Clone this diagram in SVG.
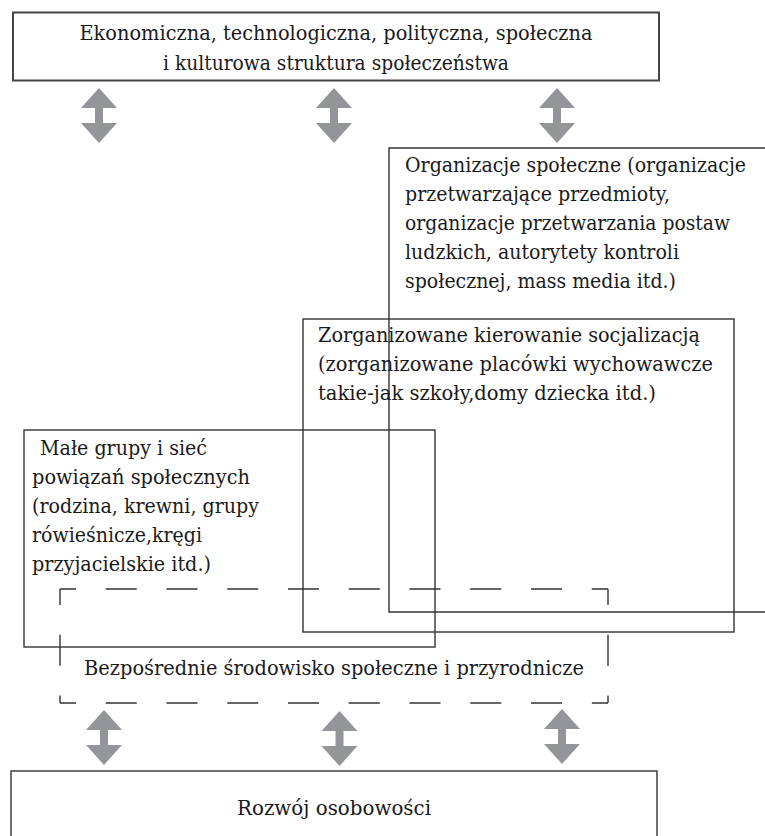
<svg xmlns="http://www.w3.org/2000/svg" width="765" height="836" viewBox="0 0 765 836">
<style>
.box{fill:none;stroke:#333;stroke-width:1.4}
.dash{fill:none;stroke:#333;stroke-width:1.4;stroke-dasharray:31 29.75;stroke-dashoffset:15}
text{font-family:'DejaVu Serif','Liberation Serif','Times New Roman',serif;font-size:21px;fill:#1a1a1a}
.c{text-anchor:middle}
.arr{fill:#939598}
</style>
<rect width="765" height="836" fill="#fff"/>
<g id="struktura">
<rect class="box" x="13" y="12.5" width="646" height="68" style="stroke-width:2;stroke:#444"/>
<text class="c" x="336" y="40" textLength="513" lengthAdjust="spacingAndGlyphs">Ekonomiczna, technologiczna, polityczna, społeczna</text>
<text class="c" x="336" y="70" textLength="346" lengthAdjust="spacingAndGlyphs">i kulturowa struktura społeczeństwa</text>
</g>
<g id="organizacje">
<path class="box" d="M765 148H389V612H765"/>
<text x="405" y="172" textLength="341" lengthAdjust="spacingAndGlyphs">Organizacje społeczne (organizacje</text>
<text x="405" y="201" textLength="265" lengthAdjust="spacingAndGlyphs">przetwarzające przedmioty,</text>
<text x="405" y="230" textLength="325" lengthAdjust="spacingAndGlyphs">organizacje przetwarzania postaw</text>
<text x="405" y="259" textLength="274" lengthAdjust="spacingAndGlyphs">ludzkich, autorytety kontroli</text>
<text x="405" y="288" textLength="271" lengthAdjust="spacingAndGlyphs">społecznej, mass media itd.)</text>
</g>
<g id="zorganizowane">
<rect class="box" x="303" y="319" width="431" height="313"/>
<text x="318" y="342" textLength="382" lengthAdjust="spacingAndGlyphs">Zorganizowane kierowanie socjalizacją</text>
<text x="318" y="371" textLength="395" lengthAdjust="spacingAndGlyphs">(zorganizowane placówki wychowawcze</text>
<text x="318" y="400" textLength="338" lengthAdjust="spacingAndGlyphs">takie-jak szkoły,domy dziecka itd.)</text>
</g>
<g id="male-grupy">
<rect class="box" x="24" y="430" width="411" height="217"/>
<text x="40" y="455" textLength="167" lengthAdjust="spacingAndGlyphs">Małe grupy i sieć</text>
<text x="32" y="484" textLength="218" lengthAdjust="spacingAndGlyphs">powiązań społecznych</text>
<text x="32" y="513" textLength="227" lengthAdjust="spacingAndGlyphs">(rodzina, krewni, grupy</text>
<text x="32" y="542" textLength="170" lengthAdjust="spacingAndGlyphs">rówieśnicze,kręgi</text>
<text x="32" y="571" textLength="179" lengthAdjust="spacingAndGlyphs">przyjacielskie itd.)</text>
</g>
<g id="srodowisko">
<path class="dash" d="M60 589H608"/>
<path class="dash" d="M60 703H608"/>
<path class="dash" d="M60 589V703"/>
<path class="dash" d="M608 589V703"/>
<text class="c" x="334" y="675" textLength="500" lengthAdjust="spacingAndGlyphs">Bezpośrednie środowisko społeczne i przyrodnicze</text>
</g>
<g id="rozwoj">
<rect class="box" x="11" y="771" width="646" height="80"/>
<text class="c" x="334" y="815" textLength="194" lengthAdjust="spacingAndGlyphs">Rozwój osobowości</text>
</g>
<g id="connectors">
<polygon class="arr" points="99,88 117,108 103,108 103,123 117,123 99,143 81,123 95,123 95,108 81,108"/>
<polygon class="arr" points="334,88 352,108 338,108 338,123 352,123 334,143 316,123 330,123 330,108 316,108"/>
<polygon class="arr" points="557,88 575,108 561,108 561,123 575,123 557,143 539,123 553,123 553,108 539,108"/>
<polygon class="arr" points="104,710 122,730 108,730 108,745 122,745 104,765 86,745 100,745 100,730 86,730"/>
<polygon class="arr" points="339.5,711 357.5,731 343.5,731 343.5,746 357.5,746 339.5,766 321.5,746 335.5,746 335.5,731 321.5,731"/>
<polygon class="arr" points="562,709 580,729 566,729 566,744 580,744 562,764 544,744 558,744 558,729 544,729"/>
</g>
</svg>
